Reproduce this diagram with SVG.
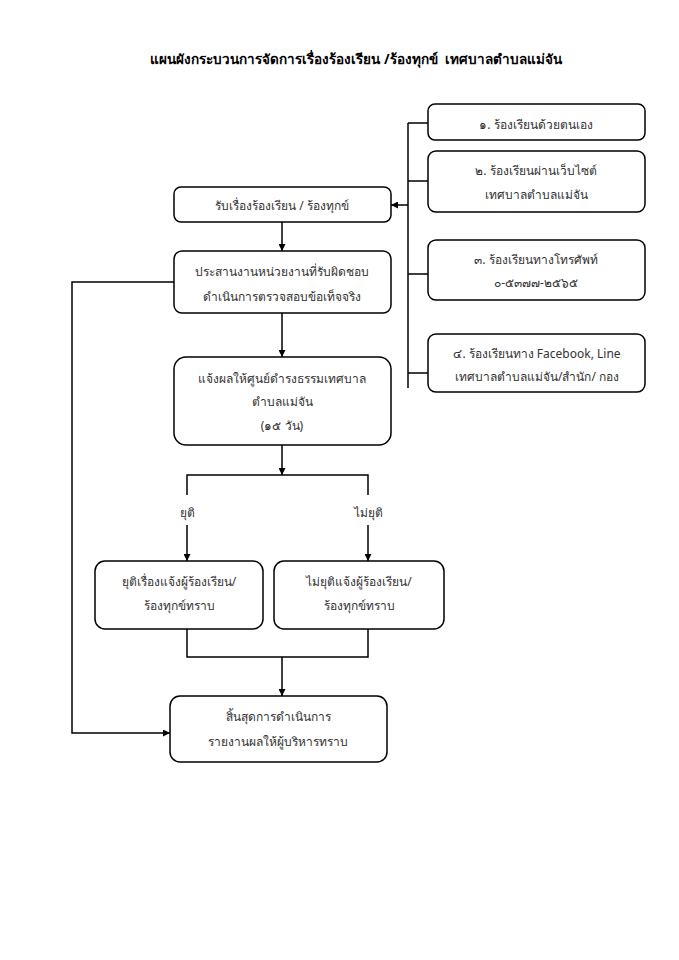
<svg xmlns="http://www.w3.org/2000/svg" width="679" height="960" viewBox="0 0 679 960">
<defs>
<marker id="ah" viewBox="0 0 10 10" refX="10" refY="5" markerWidth="7" markerHeight="7" orient="auto" markerUnits="userSpaceOnUse">
<path d="M0,0 L10,5 L0,10 z" fill="#000"/>
</marker>
<style>
.box{fill:#fff;stroke:#000;stroke-width:1.5}
.t{font-family:"Noto Sans","DejaVu Sans",sans-serif;font-size:12px;fill:#333;text-anchor:middle;dominant-baseline:central}
.title{font-family:"Noto Sans","DejaVu Sans",sans-serif;font-size:13.5px;font-weight:bold;fill:#000;text-anchor:middle;dominant-baseline:central;white-space:pre}
.ln{fill:none;stroke:#000;stroke-width:1.5}
.ar{fill:none;stroke:#000;stroke-width:1.5;marker-end:url(#ah)}
</style>
</defs>
<rect width="679" height="960" fill="#fff"/>
<text class="title" x="356" y="59">แผนผังกระบวนการจัดการเรื่องร้องเรียน /ร้องทุกข์&#160; เทศบาลตำบลแม่จัน</text>

<g id="connectors">
<path class="ln" d="M408,123 V388"/>
<path class="ln" d="M408,123 H428 M408,181 H428 M408,274 H428 M408,373 H428"/>
<path class="ar" d="M408,205 H391"/>
<path class="ar" d="M282,222 V251"/>
<path class="ar" d="M282,313 V357"/>
<path class="ar" d="M282,445 V475"/>
<path class="ln" d="M187,495 V475 H368 V495"/>
<path class="ar" d="M187,525 V561"/>
<path class="ar" d="M368,525 V561"/>
<path class="ln" d="M187,629 V657 H368 V629"/>
<path class="ar" d="M282,657 V696"/>
<path class="ar" d="M174,282 H72 V733 H170"/>
</g>

<g id="n1"><rect class="box" x="428" y="104" width="217" height="36" rx="7"/><text class="t" x="536" y="124">๑. ร้องเรียนด้วยตนเอง</text></g>
<g id="n2"><rect class="box" x="428" y="151" width="217" height="61" rx="8"/><text class="t" x="536" y="170">๒. ร้องเรียนผ่านเว็บไซต์</text><text class="t" x="536" y="194">เทศบาลตำบลแม่จัน</text></g>
<g id="n3"><rect class="box" x="428" y="240" width="217" height="60" rx="8"/><text class="t" x="536" y="259">๓. ร้องเรียนทางโทรศัพท์</text><text class="t" x="536" y="282">๐-๕๓๗๗-๒๕๖๕</text></g>
<g id="n4"><rect class="box" x="428" y="334" width="217" height="58" rx="8"/><text class="t" x="537" y="353">๔. ร้องเรียนทาง Facebook, Line</text><text class="t" x="537" y="376">เทศบาลตำบลแม่จัน/สำนัก/ กอง</text></g>
<g id="nA"><rect class="box" x="174" y="187" width="217" height="35" rx="7"/><text class="t" x="282" y="205">รับเรื่องร้องเรียน / ร้องทุกข์</text></g>
<g id="nB"><rect class="box" x="174" y="251" width="217" height="62" rx="8"/><text class="t" x="282" y="271">ประสานงานหน่วยงานที่รับผิดชอบ</text><text class="t" x="282" y="296">ดำเนินการตรวจสอบข้อเท็จจริง</text></g>
<g id="nC"><rect class="box" x="174" y="357" width="217" height="88" rx="12"/><text class="t" x="282" y="378">แจ้งผลให้ศูนย์ดำรงธรรมเทศบาล</text><text class="t" x="282" y="401">ตำบลแม่จัน</text><text class="t" x="282" y="425">(๑๕ วัน)</text></g>
<g id="lbl1"><text class="t" x="187" y="512">ยุติ</text></g>
<g id="lbl2"><text class="t" x="368" y="512">ไม่ยุติ</text></g>
<g id="nD"><rect class="box" x="95" y="561" width="168" height="68" rx="10"/><text class="t" x="179" y="581">ยุติเรื่องแจ้งผู้ร้องเรียน/</text><text class="t" x="179" y="605">ร้องทุกข์ทราบ</text></g>
<g id="nE"><rect class="box" x="274" y="561" width="170" height="68" rx="10"/><text class="t" x="359" y="581">ไม่ยุติแจ้งผู้ร้องเรียน/</text><text class="t" x="359" y="605">ร้องทุกข์ทราบ</text></g>
<g id="nF"><rect class="box" x="170" y="696" width="217" height="66" rx="10"/><text class="t" x="278" y="716">สิ้นสุดการดำเนินการ</text><text class="t" x="278" y="741">รายงานผลให้ผู้บริหารทราบ</text></g>
</svg>
